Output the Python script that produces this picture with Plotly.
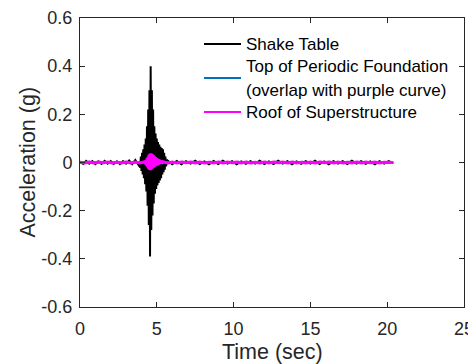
import numpy as np
import plotly.graph_objects as go

# ---------------- data ----------------
# Each series is stored as segments: (start time, sample step, peak values)
# Shake table
shake_pre_start, shake_pre_dt = 0.0, 0.2
shake_pre_vals = [0.004, -0.006, 0.007, -0.005, 0.006, -0.007, 0.005, -0.006, 0.007, -0.005,
                  0.006, -0.006, 0.005, -0.007, 0.006, -0.005, 0.008, -0.007, 0.010, -0.012]
shake_burst_start, shake_burst_dt = 3.92, 0.04
shake_burst_vals = [-0.02, 0.025, -0.035, 0.04, -0.05, 0.055, -0.065, 0.075, -0.09, 0.10,
                    -0.12, 0.15, -0.18, 0.22, -0.26, 0.30, -0.39, 0.40, -0.28, 0.30,
                    -0.22, 0.22, -0.17, 0.15, -0.13, 0.12, -0.11, 0.10, -0.095, 0.085,
                    -0.085, 0.075, -0.075, 0.065, -0.065, 0.06, -0.05, 0.055, -0.04, 0.04,
                    -0.03, 0.025, -0.015]
shake_post_start, shake_post_dt = 5.7, 0.3
shake_post_vals = [0.008, -0.007, 0.006, -0.007, 0.006, -0.005, 0.007, -0.006, 0.005, -0.007,
                   0.006, -0.006, 0.007, -0.005, 0.006, -0.007, 0.005, -0.006, 0.006, -0.005,
                   0.007, -0.006, 0.005, -0.006, 0.007, -0.005, 0.006, -0.007, 0.005, -0.006,
                   0.006, -0.005, 0.007, -0.006, 0.005, -0.007, 0.006, -0.005, 0.006, -0.006,
                   0.007, -0.005, 0.006, -0.006, 0.005, -0.007, 0.006, -0.005, 0.006, -0.004]

# Top of periodic foundation (hidden under the roof curve)
found_pre_start, found_pre_dt = 0.0, 0.3
found_pre_vals = [0.001, -0.002, 0.002, -0.001, 0.002, -0.002, 0.001, -0.002, 0.002, -0.001,
                  0.002, -0.002, 0.001, -0.002, 0.002]
found_burst_start, found_burst_dt = 4.28, 0.04
found_burst_vals = [-0.004, 0.007, -0.009, 0.013, -0.013, 0.018, -0.02, 0.027, -0.025, 0.031,
                    -0.022, 0.032, -0.018, 0.027, -0.016, 0.022, -0.013, 0.018, -0.011, 0.014,
                    -0.009, 0.012, -0.007, 0.011, -0.005, 0.009, -0.004, 0.005, -0.002]
found_post_start, found_post_dt = 5.5, 0.3
found_post_vals = [0.002, -0.002, 0.001, -0.002, 0.002, -0.001, 0.002, -0.002, 0.001, -0.002,
                   0.002, -0.001, 0.002, -0.002, 0.001, -0.002, 0.002, -0.001, 0.002, -0.002,
                   0.001, -0.002, 0.002, -0.001, 0.002, -0.002, 0.001, -0.002, 0.002, -0.001,
                   0.002, -0.002, 0.001, -0.002, 0.002, -0.001, 0.002, -0.002, 0.001, -0.002,
                   0.002, -0.001, 0.002, -0.002, 0.001, -0.002, 0.001, -0.001, 0.0, 0.0]

# Roof of superstructure
roof_pre_start, roof_pre_dt = 0.0, 0.3
roof_pre_vals = [0.001, -0.002, 0.002, -0.002, 0.002, -0.001, 0.002, -0.002, 0.001, -0.002,
                 0.002, -0.002, 0.002, -0.002, 0.003]
roof_burst_start, roof_burst_dt = 4.28, 0.03
roof_burst_vals = [-0.006, 0.01, -0.013, 0.018, -0.018, 0.024, -0.026, 0.032, -0.03, 0.036,
                   -0.032, 0.038, -0.028, 0.036, -0.025, 0.033, -0.022, 0.03, -0.019, 0.026,
                   -0.016, 0.022, -0.014, 0.019, -0.012, 0.016, -0.01, 0.014, -0.008, 0.012,
                   -0.007, 0.01, -0.006, 0.008, -0.005, 0.006, -0.003]
roof_post_start, roof_post_dt = 5.4, 0.3
roof_post_vals = [0.003, -0.002, 0.002, -0.002, 0.002, -0.001, 0.002, -0.002, 0.002, -0.002,
                  0.001, -0.002, 0.002, -0.002, 0.002, -0.001, 0.002, -0.002, 0.002, -0.002,
                  0.001, -0.002, 0.002, -0.002, 0.002, -0.001, 0.002, -0.002, 0.002, -0.002,
                  0.001, -0.002, 0.002, -0.002, 0.002, -0.001, 0.002, -0.002, 0.002, -0.002,
                  0.001, -0.002, 0.002, -0.002, 0.002, -0.001, 0.002, -0.002, 0.001, 0.0, 0.0]

series_names = ["Shake Table",
                "Top of Periodic Foundation",
                "Roof of Superstructure"]
legend_lines = ["Shake Table",
                "Top of Periodic Foundation",
                "(overlap with purple curve)",
                "Roof of Superstructure"]
series_colors = ["#000000", "#0072BD", "#FF00FF"]
series_widths = [2.0, 2.5, 3.0]

x_ticks = [0, 5, 10, 15, 20, 25]
y_ticks = [-0.6, -0.4, -0.2, 0, 0.2, 0.4, 0.6]
y_ticktext = ["-0.6", "-0.4", "-0.2", "0", "0.2", "0.4", "0.6"]
x_title = "Time (sec)"
y_title = "Acceleration (g)"


def build(segments):
    t_all, v_all = [], []
    for start, dt, vals in segments:
        t_all.extend(start + dt * np.arange(len(vals)))
        v_all.extend(vals)
    return np.array(t_all), np.array(v_all)


shake_t, shake_a = build([(shake_pre_start, shake_pre_dt, shake_pre_vals),
                          (shake_burst_start, shake_burst_dt, shake_burst_vals),
                          (shake_post_start, shake_post_dt, shake_post_vals)])
found_t, found_a = build([(found_pre_start, found_pre_dt, found_pre_vals),
                          (found_burst_start, found_burst_dt, found_burst_vals),
                          (found_post_start, found_post_dt, found_post_vals)])
roof_t, roof_a = build([(roof_pre_start, roof_pre_dt, roof_pre_vals),
                        (roof_burst_start, roof_burst_dt, roof_burst_vals),
                        (roof_post_start, roof_post_dt, roof_post_vals)])

FONT = "Liberation Sans, Arial, sans-serif"
AX = "#262626"

fig = go.Figure()
for (t, a), name, col, w in zip([(shake_t, shake_a), (found_t, found_a), (roof_t, roof_a)],
                                series_names, series_colors, series_widths):
    fig.add_trace(go.Scatter(x=t, y=a, mode="lines", name=name, showlegend=False,
                             line=dict(color=col, width=w)))

axis_common = dict(showline=True, linecolor=AX, linewidth=1, mirror="ticks",
                   ticks="inside", ticklen=5, tickcolor=AX, tickwidth=1,
                   showgrid=False, zeroline=False, automargin=False,
                   tickfont=dict(family=FONT, size=18, color=AX))

fig.update_xaxes(range=[0, 25], tickvals=x_ticks, ticktext=[str(v) for v in x_ticks],
                 ticklabelstandoff=5, **axis_common)
fig.update_yaxes(range=[-0.6, 0.6], tickvals=y_ticks, ticktext=y_ticktext,
                 ticklabelstandoff=3, **axis_common)

# page has an 8px body margin -> figure 468x356 fills the 476x364 window
W, H = 468, 356
ML, MR, MT, MB = 72, 12, 10, 57
PW, PH = W - ML - MR, H - MT - MB


def px_x(fx):
    return (fx - ML) / PW


def px_y(fy):
    return 1 - (fy - MT) / PH


# axis titles (figure pixel centres)
fig.add_annotation(xref="paper", yref="paper", x=px_x(264), y=px_y(344),
                   xanchor="center", yanchor="middle", text=x_title, showarrow=False,
                   font=dict(family=FONT, size=21.5, color=AX))
fig.add_annotation(xref="paper", yref="paper", x=px_x(19), y=px_y(154.5),
                   xanchor="center", yanchor="middle", text=y_title, showarrow=False,
                   textangle=-90, font=dict(family=FONT, size=21.5, color=AX))

# hand-built legend (figure pixel positions)
line_x0, line_x1, text_x = 196, 233, 236
sample_y = [36, 70, 104]
text_y = [36, 59, 82, 104]
for yy, col in zip(sample_y, series_colors):
    fig.add_shape(type="line", xref="paper", yref="paper",
                  x0=px_x(line_x0), x1=px_x(line_x1), y0=px_y(yy), y1=px_y(yy),
                  line=dict(color=col, width=2.2))
for yy, txt in zip(text_y, legend_lines):
    fig.add_annotation(xref="paper", yref="paper", x=px_x(text_x), y=px_y(yy),
                       xanchor="left", yanchor="middle", text=txt, showarrow=False,
                       font=dict(family=FONT, size=17, color="#000000"))

fig.update_layout(
    width=W, height=H,
    margin=dict(l=ML, r=MR, t=MT, b=MB),
    paper_bgcolor="white", plot_bgcolor="white",
    showlegend=False,
)

fig.write_html("out.html")
